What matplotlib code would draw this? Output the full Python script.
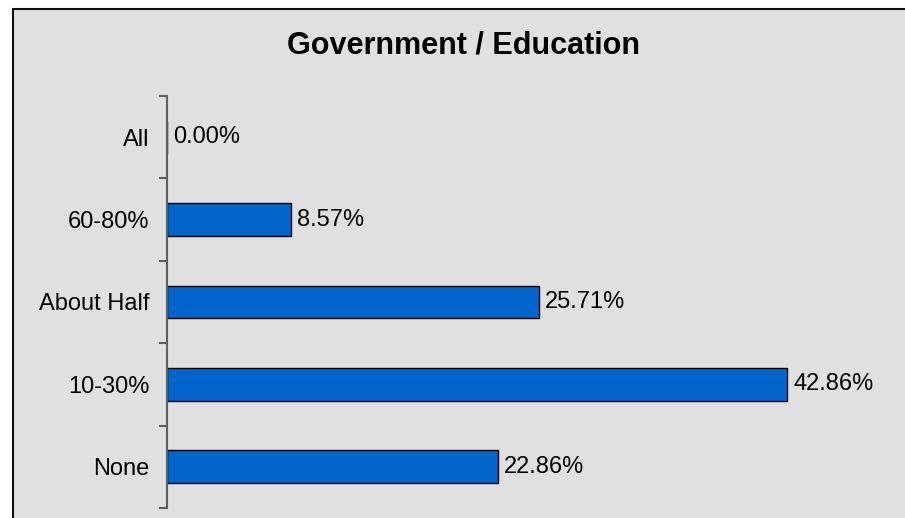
import matplotlib.pyplot as plt
from matplotlib.patches import Rectangle

plt.rcParams['font.family'] = ['Liberation Sans', 'DejaVu Sans']

categories = ['None', '10-30%', 'About Half', '60-80%', 'All']
shares = [22.86, 42.86, 25.71, 8.57, 0.00]
title = 'Government / Education'

fig = plt.figure(figsize=(9.05, 5.18), dpi=100)

# grey panel with a dark frame on the top and left
panel = Rectangle((13 / 905, -0.1), 1.2, (518 - 9) / 518 + 0.1,
                  transform=fig.transFigure, facecolor='#e0e0e0',
                  edgecolor='#111111', linewidth=1.5, zorder=-5)
fig.patches.append(panel)

ax = fig.add_axes([167 / 905, 10 / 518, 651 / 905, 412 / 518])
ax.set_facecolor('none')
ax.set_zorder(1)

pos = list(range(len(categories)))
bars = ax.barh(pos, shares, height=0.4, color='#0066cc',
               edgecolor='black', linewidth=1.0)

for b, v in zip(bars, shares):
    ax.annotate(f'{v:.2f}%', (b.get_width(), b.get_y() + b.get_height() / 2),
                xytext=(4.5, 0), textcoords='offset points',
                va='center', ha='left', fontsize=17, color='black',
                annotation_clip=False)

ax.set_xlim(0, 45)
ax.set_ylim(-0.5, len(categories) - 0.5)

for s in ['top', 'right', 'bottom']:
    ax.spines[s].set_visible(False)
ax.spines['left'].set_color('#606060')
ax.spines['left'].set_linewidth(1.5)
ax.set_xticks([])

# ticks sit between the categories, labels at the centres
ax.set_yticks([p - 0.5 for p in pos] + [pos[-1] + 0.5])
ax.set_yticklabels([])
ax.set_yticks(pos, minor=True)
ax.set_yticklabels(categories, minor=True, fontsize=17)
ax.tick_params(axis='y', which='major', length=6, width=1.5, color='#606060')
ax.tick_params(axis='y', which='minor', length=0, pad=12.5)

fig.text(463 / 905, (518 - 46) / 518, title, ha='center', va='center',
         fontsize=22, fontweight='bold')

fig.savefig('out.png', dpi=100)
